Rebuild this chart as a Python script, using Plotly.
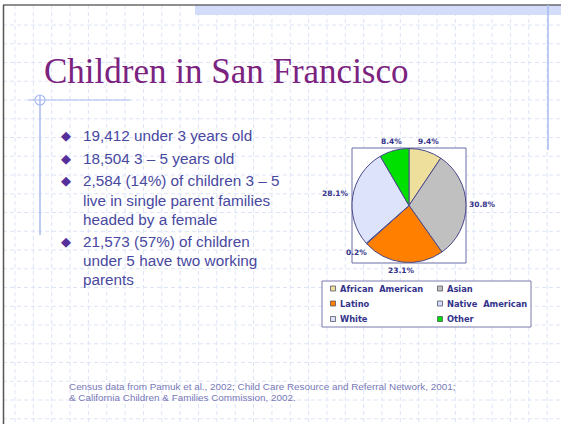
import math
import plotly.graph_objects as go

W, H = 561, 424

# ---- data ----
categories = ["African  American", "Asian", "Latino", "Native  American", "White", "Other"]
shares = [9.4, 30.8, 23.1, 0.2, 28.1, 8.4]
slice_colors = ["#eedf9c", "#c0c0c0", "#ff8000", "#d4dcfb", "#dde3fb", "#00e000"]
pct_labels = ["9.4%", "30.8%", "23.1%", "0.2%", "28.1%", "8.4%"]

title_text = "Children in San Francisco"
bullets = [
    ["19,412 under 3 years old"],
    ["18,504 3 \u2013 5 years old"],
    ["2,584 (14%) of children 3 \u2013 5", "live in single parent families", "headed by a female"],
    ["21,573 (57%) of children", "under 5 have two working", "parents"],
]
footnote = [
    "Census data from Pamuk et al., 2002; Child Care Resource and Referral Network, 2001;",
    "& California Children & Families Commission, 2002.",
]


def px(x):
    return x / W


def py(y):
    return 1 - y / H


shapes = []
annotations = []

# background grid (dashed, light blue)
gx = 15.0
while gx < W:
    shapes.append(dict(type="line", xref="paper", yref="paper", x0=px(gx), x1=px(gx), y0=py(5), y1=py(H),
                       line=dict(color="#dde4f7", width=1, dash="4px,3px"), layer="below"))
    gx += 18.35
gy = 25.0
while gy < H:
    shapes.append(dict(type="line", xref="paper", yref="paper", x0=px(3), x1=px(W), y0=py(gy), y1=py(gy),
                       line=dict(color="#dde4f7", width=1, dash="4px,3px"), layer="below"))
    gy += 18.75

# slide frame decorations
shapes.append(dict(type="rect", xref="paper", yref="paper", x0=px(195), x1=px(W), y0=py(15), y1=py(5),
                   fillcolor="#d3dcf9", line=dict(width=0), layer="below"))
shapes.append(dict(type="line", xref="paper", yref="paper", x0=px(3), x1=px(W), y0=py(5), y1=py(5),
                   line=dict(color="#6a6a6a", width=1.5)))
shapes.append(dict(type="line", xref="paper", yref="paper", x0=px(3.5), x1=px(3.5), y0=py(5), y1=py(H),
                   line=dict(color="#555555", width=1.5)))
shapes.append(dict(type="line", xref="paper", yref="paper", x0=px(548), x1=px(548), y0=py(5), y1=py(150),
                   line=dict(color="#a9baf2", width=1.5)))
shapes.append(dict(type="line", xref="paper", yref="paper", x0=px(40), x1=px(40), y0=py(95), y1=py(235),
                   line=dict(color="#a9baf2", width=1.5)))
shapes.append(dict(type="line", xref="paper", yref="paper", x0=px(28), x1=px(130), y0=py(100), y1=py(100),
                   line=dict(color="#a9baf2", width=1.2)))
shapes.append(dict(type="circle", xref="paper", yref="paper", x0=px(35), x1=px(45), y0=py(105), y1=py(95),
                   line=dict(color="#a9baf2", width=1.2)))

# title
annotations.append(dict(x=px(42), y=py(72), xref="paper", yref="paper", xanchor="left", yanchor="middle",
                        text=title_text, showarrow=False,
                        font=dict(family="Liberation Serif", size=35, color="#7b237f")))

# bullets
line_ys = [[136], [158.5], [181, 200, 219], [241.5, 260.5, 279.5]]
for lines, ys in zip(bullets, line_ys):
    annotations.append(dict(x=px(66), y=py(ys[0]), xref="paper", yref="paper", xanchor="center",
                            yanchor="middle", text="\u25c6", showarrow=False,
                            font=dict(family="DejaVu Sans", size=13, color="#55309a")))
    for t, yy in zip(lines, ys):
        annotations.append(dict(x=px(81), y=py(yy), xref="paper", yref="paper", xanchor="left",
                                yanchor="middle", text=t, showarrow=False,
                                font=dict(family="Liberation Sans", size=15.3, color="#4848a0")))

# footnote
for t, yy in zip(footnote, [386, 397]):
    annotations.append(dict(x=px(67), y=py(yy), xref="paper", yref="paper", xanchor="left", yanchor="middle",
                            text=t, showarrow=False,
                            font=dict(family="Liberation Sans", size=9.9, color="#7878b8")))

# pie box
bx0, bx1, by0, by1 = 352, 466, 148, 263
shapes.append(dict(type="rect", xref="paper", yref="paper", x0=px(bx0), x1=px(bx1), y0=py(by1), y1=py(by0),
                   fillcolor="white", line=dict(color="#6a6aa8", width=1), layer="below"))

# percentage labels around the pie, placed from the cumulative shares
cx, cy = (bx0 + bx1) / 2, (by0 + by1) / 2
r = min(bx1 - bx0, by1 - by0) / 2
total = sum(shares)
cum = 0.0
for v, lab in zip(shares, pct_labels):
    ang = 2 * math.pi * (cum + v / 2) / total
    cum += v
    s, c = math.sin(ang), math.cos(ang)
    tw = 5.4 * len(lab)
    d = r + 3 + abs(s) * tw / 2 + abs(c) * 4
    annotations.append(dict(x=px(cx + d * s), y=py(cy - d * c), xref="paper", yref="paper",
                            xanchor="center", yanchor="middle", text="<b>" + lab + "</b>", showarrow=False,
                            font=dict(family="DejaVu Sans", size=7.5, color="#33338a")))

# legend box (manual, two columns)
shapes.append(dict(type="rect", xref="paper", yref="paper", x0=px(322), x1=px(531), y0=py(327), y1=py(281),
                   fillcolor="white", line=dict(color="#7a7ab0", width=1), layer="below"))
col_x = [333, 440]
row_y = [288.5, 303.5, 319]
for i, (cat, col) in enumerate(zip(categories, slice_colors)):
    mx = col_x[i % 2]
    my = row_y[i // 2]
    shapes.append(dict(type="rect", xref="paper", yref="paper", x0=px(mx - 2.5), x1=px(mx + 2.5),
                       y0=py(my + 2.5), y1=py(my - 2.5), fillcolor=col, line=dict(color="#555566", width=0.8)))
    annotations.append(dict(x=px(mx + 5), y=py(my), xref="paper", yref="paper", xanchor="left",
                            yanchor="middle", text="<b>" + cat.replace("  ", "&nbsp;&nbsp;") + "</b>",
                            showarrow=False, font=dict(family="DejaVu Sans", size=8.3, color="#33338a")))

fig = go.Figure(go.Pie(
    labels=categories,
    values=shares,
    sort=False,
    direction="clockwise",
    rotation=0,
    marker=dict(colors=slice_colors, line=dict(color="#4a4a8c", width=1)),
    textinfo="none",
    hoverinfo="label+percent",
    domain=dict(x=[px(bx0), px(bx1)], y=[py(by1), py(by0)]),
    showlegend=False,
))

fig.update_layout(
    width=W, height=H,
    margin=dict(l=0, r=0, t=0, b=0),
    paper_bgcolor="white",
    plot_bgcolor="white",
    shapes=shapes,
    annotations=annotations,
    showlegend=False,
)

fig.write_html("out.html", config={"displayModeBar": False},
               post_script="document.body.style.margin='0';document.body.style.overflow='hidden';")
